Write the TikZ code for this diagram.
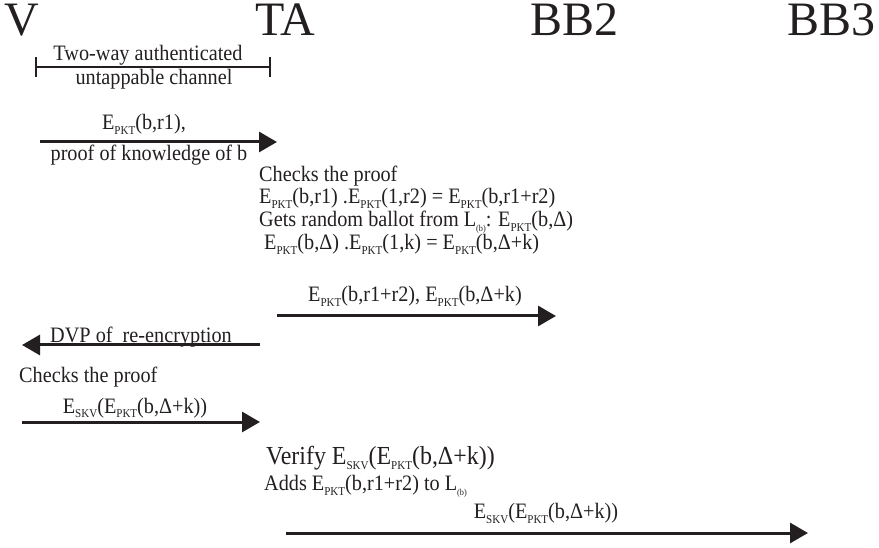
\documentclass[tikz,border=0pt]{standalone}
\usepackage{fontspec}
\setmainfont[FakeStretch=0.92]{Liberation Serif}
\newfontfamily\headfont{Liberation Serif}
\usetikzlibrary{arrows.meta}
\definecolor{ink}{HTML}{231F20}
\newcommand{\lo}[1]{\raisebox{-5pt}{\fontsize{12}{12}\selectfont #1}}
\newcommand{\lob}[1]{\raisebox{-5pt}{\fontsize{9}{9}\selectfont #1}}
\begin{document}
\begin{tikzpicture}[x=1pt,y=-1pt,
  every node/.style={inner sep=0pt,text=ink},
  head/.style={font=\headfont\fontsize{48}{48}\selectfont,anchor=base west},
  txt/.style={font=\fontsize{22}{23}\selectfont,anchor=base west},
  lbl/.style={font=\fontsize{22}{23}\selectfont,anchor=base},
  big/.style={font=\fontsize{26}{27}\selectfont,anchor=base west},
  msg/.style={draw=ink,line width=3pt,-{Triangle[length=18pt,width=20pt]}},
  bar/.style={draw=ink,line width=2.5pt}]
\useasboundingbox (0,0) rectangle (879,548);
% headers
\node[head] (V) at (4,36) {V};
\node[head] (TA) at (255,36) {TA};
\node[head] (BB2) at (530,36) {BB2};
\node[head] (BB3) at (787,36) {BB3};
% channel
\node[lbl] (ch1) at (148,61) {Two-way authenticated};
\node[lbl] (ch2) at (154,85) {untappable channel};
\coordinate (cl) at (36,67);
\coordinate (cr) at (270,67);
\draw[bar] (cl) -- (cr);
\draw[bar] ([yshift=-10pt]cl) -- ([yshift=10pt]cl);
\draw[bar] ([yshift=-10pt]cr) -- ([yshift=10pt]cr);
% message 1
\node[lbl] (m1a) at (144,130) {E\lo{PKT}(b,r1),};
\node[lbl] (m1b) at (149,161) {proof of knowledge of b};
\coordinate (a1s) at (40,142);
\coordinate (a1e) at (277,142);
\draw[msg] (a1s) -- (a1e);
% TA block
\node[txt] (t1) at (259,182) {Checks the proof};
\node[txt] (t2) at (259,204) {E\lo{PKT}(b,r1) .E\lo{PKT}(1,r2) = E\lo{PKT}(b,r1+r2)};
\node[txt] (t3) at (259,227) {Gets random ballot from L\lob{(b)}: E\lo{PKT}(b,Δ)};
\node[txt] (t4) at (264,250) {E\lo{PKT}(b,Δ) .E\lo{PKT}(1,k) = E\lo{PKT}(b,Δ+k)};
% message 2
\node[lbl] (m2) at (415,302) {E\lo{PKT}(b,r1+r2), E\lo{PKT}(b,Δ+k)};
\coordinate (a2s) at (277,316);
\coordinate (a2e) at (556,316);
\draw[msg] (a2s) -- (a2e);
% message 3
\node[lbl] (m3) at (141,342) {DVP of~ re-encryption};
\coordinate (a3s) at (260,345);
\coordinate (a3e) at (22,345);
\draw[msg] (a3s) -- (a3e);
\node[txt] (v1) at (19,382) {Checks the proof};
% message 4
\node[lbl] (m4) at (135,413) {E\lo{SKV}(E\lo{PKT}(b,Δ+k))};
\coordinate (a4s) at (22,422);
\coordinate (a4e) at (260,422);
\draw[msg] (a4s) -- (a4e);
% BB2 block
\node[big] (b1) at (266,464) {Verify E\lo{SKV}(E\lo{PKT}(b,Δ+k))};
\node[txt] (b2) at (264,490) {Adds E\lo{PKT}(b,r1+r2) to L\lob{(b)}};
% message 5
\node[lbl] (m5) at (546,518) {E\lo{SKV}(E\lo{PKT}(b,Δ+k))};
\coordinate (a5s) at (286,533);
\coordinate (a5e) at (808,533);
\draw[msg] (a5s) -- (a5e);
\end{tikzpicture}
\end{document}
